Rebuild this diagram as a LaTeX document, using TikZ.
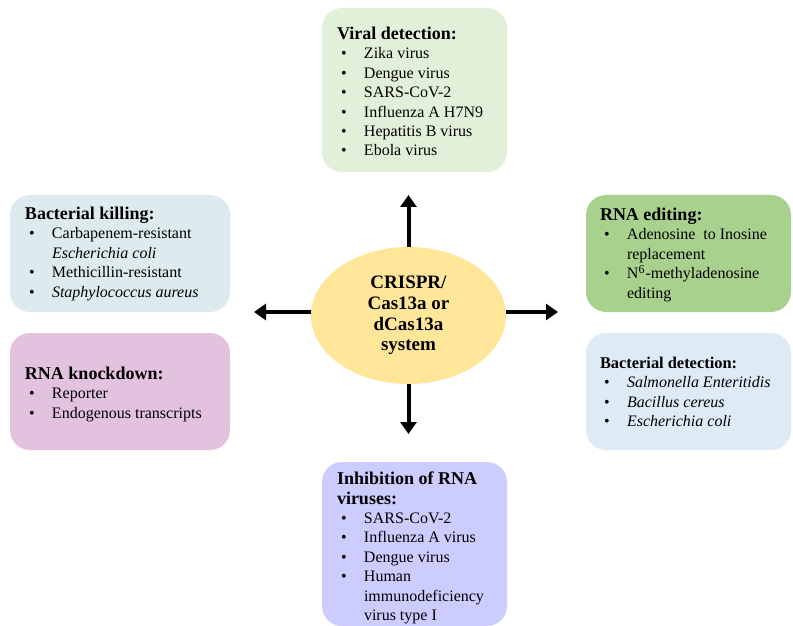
\documentclass[tikz,border=0pt]{standalone}
\usepackage{fontspec}
\setmainfont{Liberation Serif}
\usepackage{xcolor}
\usetikzlibrary{shapes.geometric, arrows.meta}

\definecolor{viralgreen}{HTML}{E2F0D9}
\definecolor{killblue}{HTML}{DDEBEF}
\definecolor{knockpink}{HTML}{E2C2DF}
\definecolor{editgreen}{HTML}{A9D18E}
\definecolor{detblue}{HTML}{DEEBF7}
\definecolor{inhibviolet}{HTML}{CCCCFF}
\definecolor{coreyellow}{HTML}{FFE699}

\newcommand{\itm}[1]{\hspace*{2pt}\makebox[11.5pt][l]{\textbullet}#1}
\newcommand{\cnt}[1]{\hspace*{13.5pt}#1}
\newcommand{\ttl}[1]{{\fontsize{9}{10.5}\selectfont\bfseries #1}}

\begin{document}
\begin{tikzpicture}[x=0.5pt, y=-0.5pt,
  panel/.style={rounded corners=10pt, inner sep=0pt},
  list/.style={anchor=north west, inner sep=0pt, align=left,
    font=\fontsize{8}{9.7}\selectfont},
  core/.style={ellipse, fill=coreyellow, minimum width=97.5pt, minimum height=68.5pt,
    align=center, inner sep=0pt, font=\fontsize{9.5}{10.4}\selectfont\bfseries},
  arr/.style={line width=2pt, -{Triangle[length=6pt, width=8pt]}}]

\useasboundingbox (0,0) rectangle (793,626);

\node [core] (crispr) at (408.5, 315.5) {CRISPR/\\Cas13a or\\dCas13a\\system};

\node [panel, fill=viralgreen, minimum width=92.5pt, minimum height=82pt] (viral) at (414.5, 90) {};
\node [list] (viraltxt) at ([shift={(15,19)}]viral.north west)
  {\ttl{Viral detection:}\\
   \itm{Zika virus}\\
   \itm{Dengue virus}\\
   \itm{SARS-CoV-2}\\
   \itm{Influenza A H7N9}\\
   \itm{Hepatitis B virus}\\
   \itm{Ebola virus}};

\node [panel, fill=killblue, minimum width=110pt, minimum height=58.5pt] (kill) at (120, 253.5) {};
\node [list] (killtxt) at ([shift={(15,12)}]kill.north west)
  {\ttl{Bacterial killing:}\\
   \itm{Carbapenem-resistant}\\
   \cnt{\textit{Escherichia coli}}\\
   \itm{Methicillin-resistant}\\
   \itm{\textit{Staphylococcus aureus}}};

\node [panel, fill=knockpink, minimum width=110pt, minimum height=58.5pt] (knock) at (120, 391.5) {};
\node [list] (knocktxt) at ([shift={(15,34)}]knock.north west)
  {\ttl{RNA knockdown:}\\
   \itm{Reporter}\\
   \itm{Endogenous transcripts}};

\node [panel, fill=editgreen, minimum width=102.5pt, minimum height=58.5pt] (edit) at (688.5, 253.5) {};
\node [list] (edittxt) at ([shift={(14,13)}]edit.north west)
  {\ttl{RNA editing:}\\
   \itm{Adenosine\ \ to Inosine}\\
   \cnt{replacement}\\
   \itm{N\textsuperscript{6}-methyladenosine}\\
   \cnt{editing}};

\node [panel, fill=detblue, minimum width=102.5pt, minimum height=58.5pt] (detect) at (688.5, 391.5) {};
\node [list] (detecttxt) at ([shift={(14,24)}]detect.north west)
  {{\fontsize{8.2}{10}\selectfont\bfseries Bacterial detection:}\\
   \itm{\textit{Salmonella Enteritidis}}\\
   \itm{\textit{Bacillus cereus}}\\
   \itm{\textit{Escherichia coli}}};

\node [panel, fill=inhibviolet, minimum width=92.5pt, minimum height=82pt] (inhib) at (414.5, 544) {};
\node [list] (inhibtxt) at ([shift={(15,10)}]inhib.north west)
  {\ttl{Inhibition of RNA}\\
   \ttl{viruses:}\\
   \itm{SARS-CoV-2}\\
   \itm{Influenza A virus}\\
   \itm{Dengue virus}\\
   \itm{Human}\\
   \cnt{immunodeficiency}\\
   \cnt{virus type I}};

\coordinate (up) at (408.5, 195);
\coordinate (down) at (408.5, 434);
\coordinate (left) at (254, 312);
\coordinate (right) at (558, 312);

\draw [arr] (crispr.north) -- (up);
\draw [arr] (crispr.south) -- (down);
\draw [arr] (crispr.west |- left) -- (left);
\draw [arr] (crispr.east |- right) -- (right);

\end{tikzpicture}
\end{document}
